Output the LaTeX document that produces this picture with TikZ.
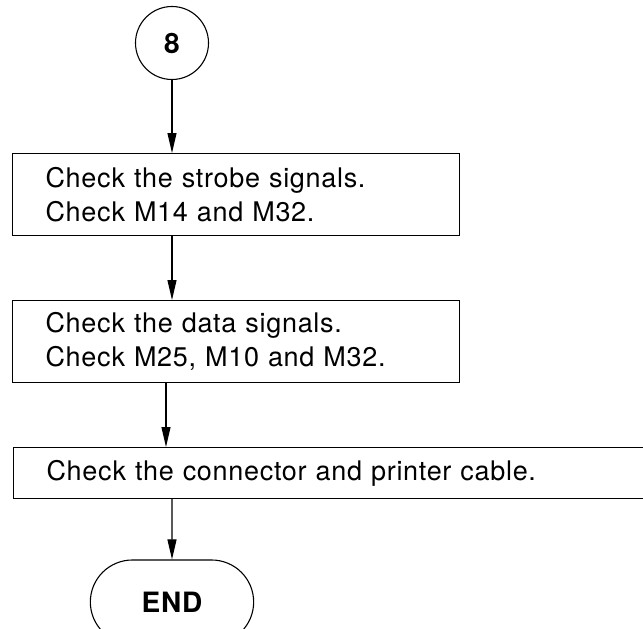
\documentclass[tikz,border=0pt]{standalone}
\usepackage{fontspec}
\setmainfont{TeX Gyre Heros}[LetterSpace=2.6]
\usetikzlibrary{arrows.meta, positioning, shapes.misc}

\begin{document}
\begin{tikzpicture}[
		x=1pt, y=-1pt,
		stepbox/.style={rectangle, draw, line width=1.1pt, anchor=north west, text width=381pt, inner xsep=33pt, inner ysep=0pt, minimum height=82pt, align=left, font=\fontsize{27}{34}\selectfont},
		connector/.style={circle, draw, line width=1.1pt, minimum size=73pt, inner sep=0pt, font=\fontsize{28}{30}\selectfont\bfseries},
		terminal/.style={rounded rectangle, draw, line width=1.1pt, minimum width=170pt, minimum height=84pt, font=\fontsize{28}{30}\selectfont\bfseries},
		arrow/.style={-{Triangle[length=20pt, width=9pt]}, line width=1.1pt}
		]
		\useasboundingbox (0,0) rectangle (643,629);
		\clip (0,0) rectangle (643,629);

		\node[connector] (eight) at (172,43) {8};
		\node[stepbox] (strobe) at (12,153) {Check the strobe signals.\\Check M14 and M32.};
		\node[stepbox] (data) at (12,300) {Check the data signals.\\Check M25, M10 and M32.};
		\node[stepbox, text width=660pt, minimum height=51pt] (cable) at (13,447) {Check the connector and printer cable.};
		\node[terminal] (end) at (172,602) {END};

		\draw[arrow] (eight) -- (eight |- strobe.north);
		\draw[arrow] (strobe.south -| eight) -- (eight |- data.north);
		\draw[arrow] ([xshift=-6pt]data.south -| eight) -- ([xshift=-6pt]eight |- cable.north);
		\draw[arrow] (cable.south -| eight) -- (end);
	\end{tikzpicture}
\end{document}
